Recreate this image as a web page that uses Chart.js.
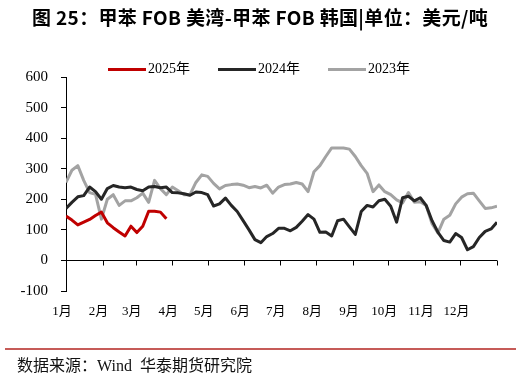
<!DOCTYPE html>
<html>
<head>
<meta charset="utf-8">
<script src="https://cdn.jsdelivr.net/npm/chart.js@4.4.1/dist/chart.umd.min.js"></script>
<style>
  html, body { margin: 0; padding: 0; background: #fff; }
  #wrap { position: relative; width: 521px; height: 379px; overflow: hidden; }
  #chart { position: absolute; left: 0; top: 0; }
  #title { position: absolute; left: 32px; top: 7px; font: bold 19px/20px "Noto Sans CJK SC", sans-serif; letter-spacing: 0.35px; color: #000; white-space: pre; }
  #legend { position: absolute; left: 108px; top: 61px; display: flex; font: 14px/16px "Liberation Serif", "Noto Sans CJK SC", serif; color: #000; }
  #legend .item { display: flex; align-items: center; margin-right: 28px; }
  #legend .swatch { width: 38px; height: 3px; margin-right: 2px; }
  #rule { position: absolute; left: 5px; top: 348px; width: 511px; height: 2px; background: #c65b58; }
  #source { position: absolute; left: 17px; top: 357px; font: 16px/18px "Liberation Serif", "Noto Sans CJK SC", serif; color: #111; white-space: pre; }
</style>
</head>
<body>
<div id="wrap">
  <canvas id="chart" width="521" height="379"></canvas>
  <div id="title">图 25：甲苯 FOB 美湾-甲苯 FOB 韩国|单位：美元/吨</div>
  <div id="legend"></div>
  <div id="rule"></div>
  <div id="source">数据来源：Wind  华泰期货研究院</div>
</div>
<script>
// 每隔 5 天取一个点
const step = 5
const monthLabels = ['1月', '2月', '3月', '4月', '5月', '6月', '7月', '8月', '9月', '10月', '11月', '12月']
const monthStarts = [0, 31, 59, 90, 120, 151, 181, 212, 243, 273, 304, 334, 365]

const vals2025 = [145, 132, 116, 125, 134, 147, 158, 123, 107, 93, 80, 112, 91, 112, 161, 161, 158, 136]

const vals2024 = [
    170, 190, 208, 212, 240, 225, 200, 235, 245, 240,
    238, 240, 232, 228, 240, 242, 238, 240, 222, 221,
    218, 213, 224, 222, 215, 178, 185, 204, 180, 160,
    130, 100, 68, 58, 78, 88, 105, 105, 97, 108,
    128, 150, 135, 92, 93, 80, 130, 135, 110, 85,
    160, 180, 175, 195, 200, 177, 125, 205, 210, 195,
    205, 180, 130, 92, 65, 60, 88, 75, 35, 45,
    75, 95, 103, 125
]

const vals2023 = [
    255, 295, 310, 262, 222, 216, 135, 200, 215, 180,
    195, 195, 205, 220, 190, 262, 235, 215, 240, 228,
    215, 215, 255, 280, 275, 252, 234, 245, 248, 250,
    246, 238, 242, 237, 246, 220, 240, 248, 250, 255,
    250, 225, 290, 310, 340, 368, 368, 368, 364, 340,
    310, 285, 225, 247, 225, 215, 198, 188, 222, 190,
    192, 180, 120, 90, 135, 148, 185, 207, 218, 220,
    195, 170, 172, 177
]

const toPoints = arr => arr.map((v, i) => ({ x: i * step, y: v }))

const serif = '"Liberation Serif", "Noto Sans CJK SC", serif'

// y=0 处的横轴和月份刻度
const zeroAxis = {
    id: 'zeroAxis',
    afterDatasetsDraw(chart) {
        const { ctx, scales: { x, y } } = chart
        const y0 = Math.round(y.getPixelForValue(0)) + 0.5
        ctx.save()
        ctx.strokeStyle = '#000'
        ctx.lineWidth = 1
        ctx.beginPath()
        ctx.moveTo(x.left, y0)
        ctx.lineTo(x.right, y0)
        monthStarts.forEach(d => {
            const px = Math.round(x.getPixelForValue(d)) + 0.5
            ctx.moveTo(px, y0)
            ctx.lineTo(px, y0 + 5)
        })
        ctx.stroke()
        ctx.restore()
    }
}

const line = (label, data, color) => ({
    label,
    data: toPoints(data),
    borderColor: color,
    backgroundColor: color,
    borderWidth: 3,
    pointRadius: 0,
    tension: 0,
    borderJoinStyle: 'round'
})

const chart = new Chart('chart', {
    type: 'line',
    data: {
        datasets: [
            line('2025年', vals2025, '#c00000'),
            line('2024年', vals2024, '#262626'),
            line('2023年', vals2023, '#a3a3a3')
        ]
    },
    options: {
        responsive: false,
        animation: false,
        layout: { padding: { left: 0, right: 24, top: 77, bottom: 58 } },
        plugins: { legend: { display: false }, tooltip: { enabled: false } },
        scales: {
            x: {
                type: 'linear',
                min: 0,
                max: 365,
                afterBuildTicks: s => { s.ticks = monthStarts.map(v => ({ value: v })) },
                afterFit: s => { s.height = 30 },
                grid: { display: false, drawTicks: false },
                border: { display: false },
                ticks: {
                    autoSkip: false,
                    maxRotation: 0,
                    padding: 13,
                    labelOffset: -4,
                    color: '#000',
                    font: { family: serif, size: 13 },
                    callback: (v, i) => monthLabels[i] || ''
                }
            },
            y: {
                min: -100,
                max: 600,
                afterFit: s => { s.width = 66 },
                grid: { display: true, drawOnChartArea: false, drawTicks: true, tickLength: 5, color: '#000' },
                border: { display: true, color: '#000', width: 1 },
                ticks: { stepSize: 100, padding: 13, color: '#000', font: { family: serif, size: 15 } }
            }
        }
    },
    plugins: [zeroAxis]
})

// 图例
const legend = document.getElementById('legend')
chart.data.datasets.forEach(ds => {
    const item = document.createElement('div')
    item.className = 'item'
    const sw = document.createElement('span')
    sw.className = 'swatch'
    sw.style.background = ds.borderColor
    const txt = document.createElement('span')
    txt.textContent = ds.label
    item.appendChild(sw)
    item.appendChild(txt)
    legend.appendChild(item)
})
</script>
</body>
</html>
